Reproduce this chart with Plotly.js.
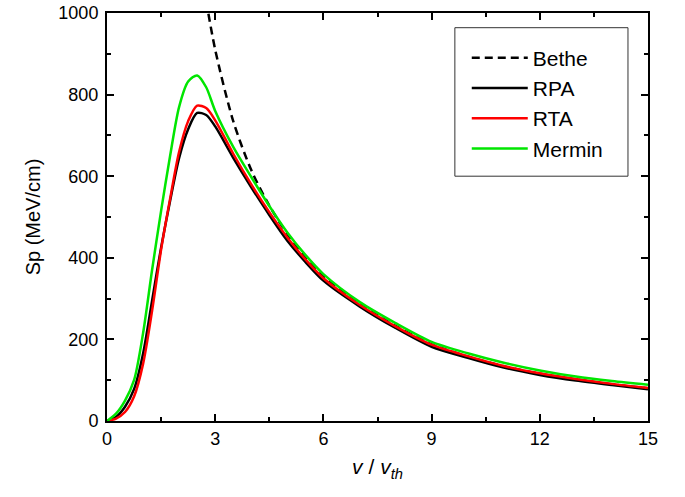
<!DOCTYPE html>
<html>
<head>
<meta charset="utf-8">
<script src="https://cdn.plot.ly/plotly-3.0.1.min.js"></script>
<style>html,body{margin:0;padding:0;background:#fff;}#chart{width:685px;height:497px;}</style>
</head>
<body>
<div id="chart"></div>
<script>
// v / v_th
const xBethe = [2.75, 3.0, 3.5, 4.0, 4.5, 5.0, 5.5, 6, 7, 8, 9, 10, 11, 12, 13, 14, 15];
const bethe  = [1030, 910, 735, 615, 528, 458, 400, 354, 287, 233, 188, 158, 134, 116, 102, 90, 80];

const xCurve = [0, 0.25, 0.5, 0.75, 1.0, 1.25, 1.5, 1.75, 2.0, 2.25, 2.5, 2.75, 3.0, 3.5, 4.0, 4.5, 5.0, 5.5, 6, 7, 8, 9, 10, 11, 12, 13, 14, 15];
const rpa    = [0, 10, 35, 78, 165, 295, 425, 540, 645, 715, 755, 750, 722, 645, 573, 505, 442, 390, 344, 281, 228, 182, 155, 131, 113, 99, 88, 78];
const rta    = [0, 6, 22, 60, 140, 270, 420, 545, 660, 735, 773, 767, 737, 655, 580, 512, 450, 396, 350, 285, 232, 187, 159, 135, 117, 103, 91, 81];
const mermin = [0, 18, 50, 100, 215, 370, 515, 650, 770, 832, 847, 818, 760, 672, 598, 527, 462, 407, 360, 292, 240, 194, 166, 143, 124, 109, 98, 89];

const xTicks = [0, 3, 6, 9, 12, 15];
const yTicks = [0, 200, 400, 600, 800, 1000];

const traces = [
  {x: xBethe, y: bethe, name: 'Bethe', mode: 'lines', line: {color: '#000', width: 2.5, dash: '8px,5px', shape: 'spline', smoothing: 0.8}},
  {x: xCurve, y: rpa, name: 'RPA', mode: 'lines', line: {color: '#000', width: 2.5, shape: 'spline', smoothing: 0.8}},
  {x: xCurve, y: rta, name: 'RTA', mode: 'lines', line: {color: '#ff0000', width: 2.5, shape: 'spline', smoothing: 0.8}},
  {x: xCurve, y: mermin, name: 'Mermin', mode: 'lines', line: {color: '#00e600', width: 2.5, shape: 'spline', smoothing: 0.8}}
];

const axisCommon = {
  showgrid: false, zeroline: false, showline: true, linecolor: '#000', linewidth: 2,
  mirror: 'ticks', ticks: 'inside', ticklen: 7, tickwidth: 2, tickcolor: '#000',
  tickfont: {family: 'Liberation Sans, Arial, sans-serif', size: 18, color: '#000'}
};

const layout = {
  width: 685, height: 497,
  margin: {l: 107, r: 37, t: 13, b: 76},
  paper_bgcolor: '#fff', plot_bgcolor: '#fff',
  showlegend: true,
  xaxis: Object.assign({}, axisCommon, {
    range: [0, 15], tickvals: xTicks, ticktext: xTicks.map(String),
    minor: {dtick: 1.5, ticks: 'inside', ticklen: 4, tickwidth: 2, tickcolor: '#000', showgrid: false},
    title: {text: '<i>v</i> / <i>v</i><sub><i>th</i></sub>', font: {family: 'Liberation Sans, Arial, sans-serif', size: 21, color: '#000'}, standoff: 12}
  }),
  yaxis: Object.assign({}, axisCommon, {
    range: [0, 1000], tickvals: yTicks, ticktext: yTicks.map(String),
    ticklabelstandoff: 3,
    minor: {dtick: 100, ticks: 'inside', ticklen: 4, tickwidth: 2, tickcolor: '#000', showgrid: false},
    title: {text: 'Sp (MeV/cm)', font: {family: 'Liberation Sans, Arial, sans-serif', size: 20, color: '#000'}, standoff: 12}
  }),
  legend: {
    x: 0.665, y: 0.94, xanchor: 'left', yanchor: 'top',
    bgcolor: 'rgba(0,0,0,0)', borderwidth: 0,
    font: {family: 'Liberation Sans, Arial, sans-serif', size: 21, color: '#000'},
    itemwidth: 56, tracegroupgap: 0
  },
  shapes: [{
    type: 'rect', xref: 'paper', yref: 'paper',
    x0: 0.643, x1: 0.963, y0: 0.60, y1: 0.964,
    line: {color: '#333', width: 1}, fillcolor: 'rgba(0,0,0,0)', layer: 'below'
  }]
};

Plotly.newPlot('chart', traces, layout, {displayModeBar: false, staticPlot: true});
</script>
</body>
</html>
